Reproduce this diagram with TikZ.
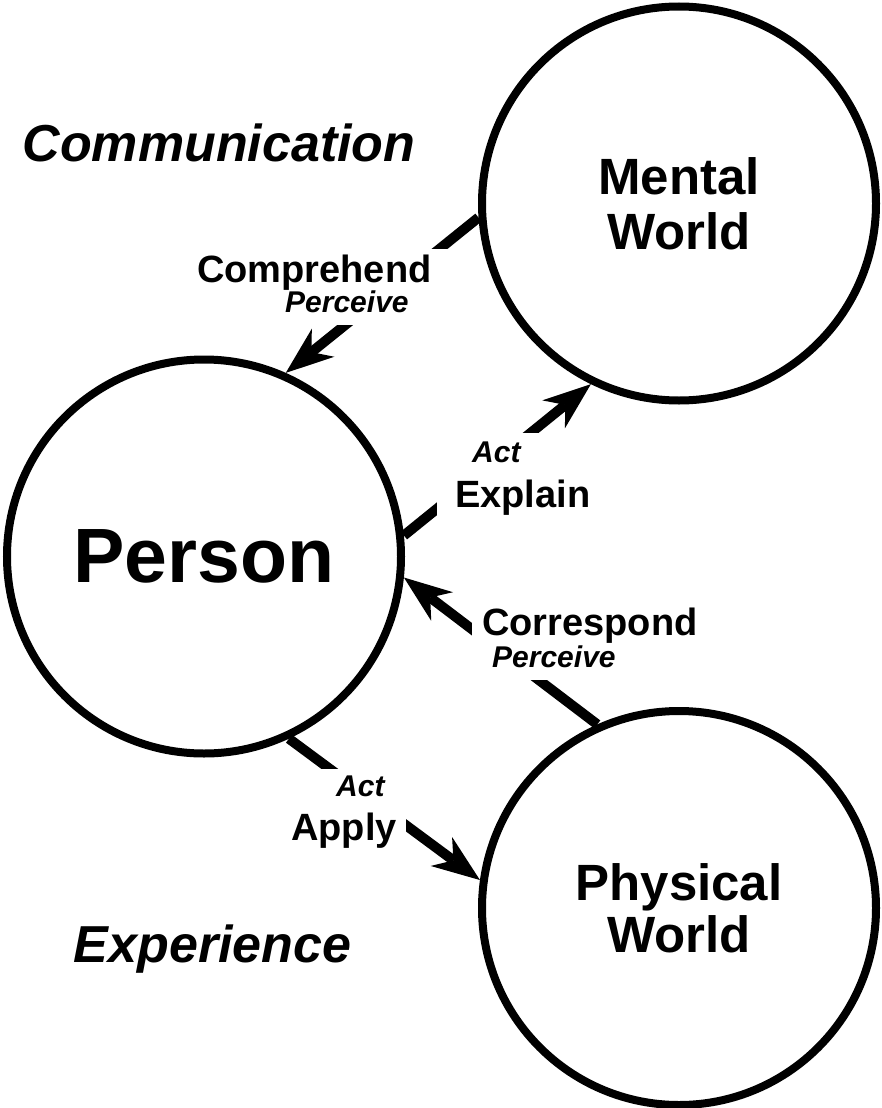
\documentclass[tikz,border=0pt]{standalone}
\usepackage{fontspec}
\setmainfont{Liberation Sans}
\usetikzlibrary{arrows.meta}
\begin{document}
\begin{tikzpicture}[x=1pt,y=-1pt,
  world/.style={circle,draw,line width=8pt,minimum size=394pt,inner sep=0pt,align=center},
  conn/.style={line width=10pt,-{Stealth[length=48pt,width=36pt,inset=15pt,line width=0pt]}},
  mask/.style={fill=white},
  lbl/.style={font=\fontsize{38}{40}\selectfont\bfseries,inner sep=0pt,anchor=base west},
  sublbl/.style={font=\fontsize{30}{32}\selectfont\bfseries\itshape,inner sep=0pt,anchor=base west},
  theme/.style={font=\fontsize{52}{56}\selectfont\bfseries\itshape,inner sep=0pt,anchor=base}]
\useasboundingbox (0,0) rectangle (882,1108);
\node[world,font=\fontsize{51}{55}\selectfont\bfseries] (mw) at (679,203.5) {Mental\\World};
\node[world,font=\fontsize{77}{80}\selectfont\bfseries] (pe) at (204,556.5) {Person};
\node[world,font=\fontsize{51}{52}\selectfont\bfseries] (pw) at (679,908) {Physical\\World};
% connectors
\draw[conn] (mw.184.8) -- (pe.66.8);
\draw[conn] (pe.6.9) -- (mw.244.2);
\draw[conn] (pw.114.4) -- (pe.354.6);
\draw[conn] (pe.295.4) -- (pw.172.9);
% label backgrounds
\fill[mask] (190,249) rectangle (452,325);
\fill[mask] (437,433) rectangle (600,522);
\fill[mask] (472,600) rectangle (712,680);
\fill[mask] (280,769) rectangle (406,850);
% labels
\node[lbl] (comp) at (197,282) {Comprehend};
\node[sublbl] (perc1) at (285,312) {Perceive};
\node[sublbl] (act1) at (472,462) {Act};
\node[lbl] (expl) at (455,507) {Explain};
\node[lbl] (corr) at (482,635) {Correspond};
\node[sublbl] (perc2) at (492,667) {Perceive};
\node[sublbl] (act2) at (336,796) {Act};
\node[lbl] (appl) at (291,840) {Apply};
% themes
\node[theme] (comm) at (219,161) {Communication};
\node[theme] (expe) at (212.5,962) {Experience};
\end{tikzpicture}
\end{document}
